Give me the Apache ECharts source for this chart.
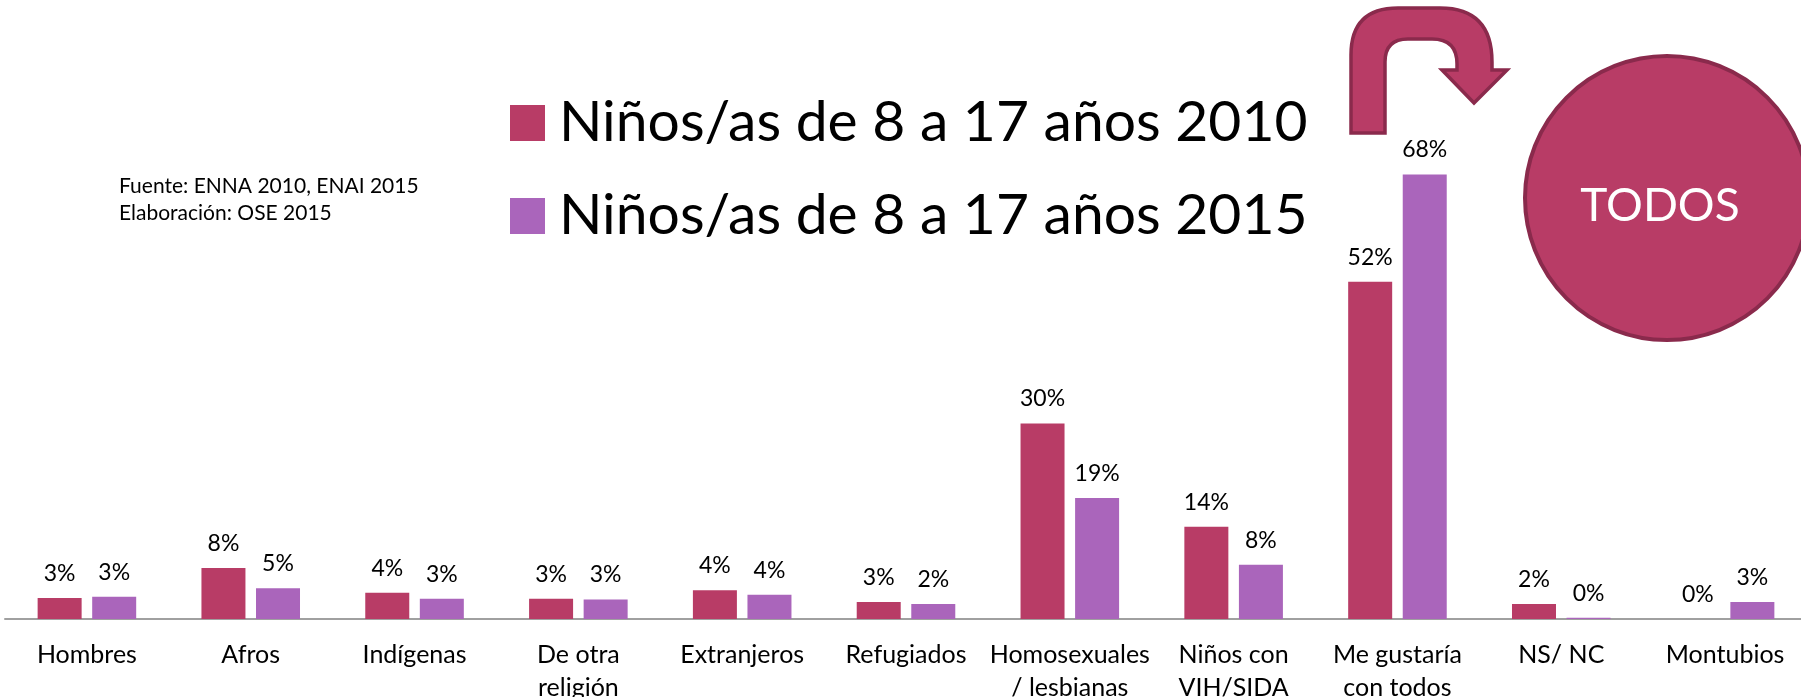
<!DOCTYPE html>
<html>
<head>
<meta charset="utf-8">
<script src="https://cdn.jsdelivr.net/npm/echarts@6/dist/echarts.min.js"></script>
<style>
  html, body { margin: 0; padding: 0; background: #fff; }
  #chart { width: 1801px; height: 697px; }
</style>
</head>
<body>
<div id="chart"></div>
<script>
// categories and values (percent)
const categories = [
  "Hombres", "Afros", "Indígenas", "De otra\nreligión", "Extranjeros", "Refugiados",
  "Homosexuales\n/ lesbianas", "Niños con\nVIH/SIDA", "Me gustaría\ncon todos", "NS/ NC", "Montubios"
];
const seriesNames = ["Niños/as de 8 a 17 años 2010", "Niños/as de 8 a 17 años 2015"];
const values2010 = [3.2, 7.8, 4.0, 3.1, 4.4, 2.6, 29.9, 14.1, 51.6, 2.3, 0];
const values2015 = [3.4, 4.7, 3.1, 3.0, 3.7, 2.3, 18.5, 8.3, 68.0, 0.2, 2.6];
const sourceLines = ["Fuente: ENNA 2010, ENAI 2015", "Elaboración: OSE 2015"];
const badgeText = "TODOS";

const RED = "#b83c66";
const PURPLE = "#aa65bb";
const DARK = "#8a2a4c";
const FONT = "Lato, 'Open Sans', sans-serif";

// u-turn arrow shape above the "Me gustaría" bars
const UTurn = echarts.graphic.extendPath(
  "M1351,133 L1351,55 Q1351,8 1398,8 L1440,8 Q1492,8 1492,62 L1492,70 L1507,70 L1474,103 " +
  "L1442,70 L1457,70 L1457,64 Q1457,39 1432,39 L1408,39 Q1385,39 1385,62 L1385,133 Z"
);
echarts.graphic.registerShape("uturn", UTurn);

const chart = echarts.init(document.getElementById("chart"));

const barLabel = {
  show: true,
  position: "top",
  distance: 13,
  fontSize: 23,
  fontFamily: FONT,
  color: "#000",
  formatter: (p) => Math.round(p.value) + "%",
};

const option = {
  animation: false,
  grid: { left: 5, width: 1802, top: 96, bottom: 78, outerBoundsMode: "none", containLabel: false },
  legend: {
    orient: "vertical",
    left: 505,
    top: 87,
    itemWidth: 35,
    itemHeight: 36,
    itemGap: 31,
    icon: "rect",
    textStyle: {
      fontSize: 57,
      lineHeight: 62,
      fontFamily: FONT,
      color: "#000",
      padding: [0, 0, 0, 9],
    },
    data: seriesNames,
  },
  xAxis: {
    type: "category",
    data: categories,
    axisTick: { show: false },
    axisLine: { lineStyle: { color: "#a0a0a0", width: 2 } },
    axisLabel: {
      interval: 0,
      margin: 19,
      fontSize: 25,
      lineHeight: 33,
      fontFamily: FONT,
      color: "#000",
    },
  },
  yAxis: {
    type: "value",
    min: 0,
    max: 80,
    show: false,
    splitLine: { show: false },
  },
  series: [
    {
      name: seriesNames[0],
      type: "bar",
      data: values2010,
      barWidth: 44,
      barGap: "24%",
      itemStyle: { color: RED },
      label: barLabel,
    },
    {
      name: seriesNames[1],
      type: "bar",
      data: values2015,
      barWidth: 44,
      itemStyle: { color: PURPLE },
      label: barLabel,
    },
  ],
  graphic: [
    {
      type: "text",
      left: 119,
      top: 173,
      style: {
        text: sourceLines.join("\n"),
        fontSize: 21,
        lineHeight: 27,
        fontFamily: FONT,
        fill: "#000",
      },
    },
    {
      type: "uturn",
      style: { fill: RED, stroke: DARK, lineWidth: 3.5 },
    },
    {
      type: "circle",
      shape: { cx: 1667, cy: 198, r: 142 },
      style: { fill: RED, stroke: DARK, lineWidth: 4 },
    },
    {
      type: "text",
      x: 1660,
      y: 206,
      style: {
        text: badgeText,
        fontSize: 46,
        fontFamily: FONT,
        fill: "#fff",
        align: "center",
        verticalAlign: "middle",
      },
    },
  ],
};

chart.setOption(option);
</script>
</body>
</html>
